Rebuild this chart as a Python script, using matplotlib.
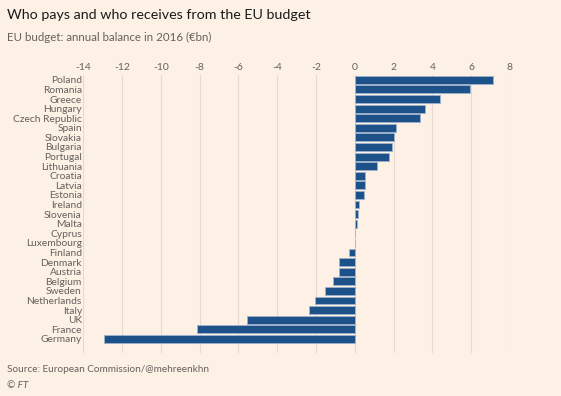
import numpy as np
import matplotlib.pyplot as plt

countries = ['Poland', 'Romania', 'Greece', 'Hungary', 'Czech Republic', 'Spain',
             'Slovakia', 'Bulgaria', 'Portugal', 'Lithuania', 'Croatia', 'Latvia',
             'Estonia', 'Ireland', 'Slovenia', 'Malta', 'Cyprus', 'Luxembourg',
             'Finland', 'Denmark', 'Austria', 'Belgium', 'Sweden', 'Netherlands',
             'Italy', 'UK', 'France', 'Germany']
balance = [7.11, 5.96, 4.37, 3.61, 3.34, 2.10, 2.01, 1.94, 1.77, 1.15, 0.54, 0.52,
           0.48, 0.24, 0.19, 0.12, 0.03, -0.01, -0.29, -0.79, -0.79, -1.15, -1.56,
           -2.06, -2.34, -5.58, -8.16, -12.92]
xticks = [-14, -12, -10, -8, -6, -4, -2, 0, 2, 4, 6, 8]

bg = '#FDF1E6'
bar_color = '#1D5189'
grey = '#66605C'
plt.rcParams['font.family'] = ['Lato', 'DejaVu Sans']

fig = plt.figure(figsize=(5.61, 3.96), dpi=100, facecolor=bg)
ax = fig.add_axes([0.1485, 0.109, 0.7605, 0.702], facecolor=bg)

y = np.arange(len(countries))
ax.barh(y, balance, height=0.82, color=bar_color, edgecolor='#9FB3CC', linewidth=0.6, zorder=3)

ax.set_xlim(-14, 8)
ax.set_ylim(len(countries) - 1 + 1.46, -0.52)
ax.set_xticks(xticks)
ax.set_xticklabels([str(t) for t in xticks], color=grey, fontsize=7.5)
ax.xaxis.tick_top()
ax.tick_params(axis='x', length=0, pad=2)
ax.set_yticks(y)
ax.set_yticklabels(countries, color=grey, fontsize=7.4)
ax.tick_params(axis='y', length=0, pad=1)
ax.grid(axis='x', color='#E5DAD0', linewidth=0.8, zorder=0)
for s in ax.spines.values():
    s.set_visible(False)

fig.text(0.0125, 0.962, 'Who pays and who receives from the EU budget', fontsize=10.3,
         color='#1A1A1A', va='center')
fig.text(0.0125, 0.905, 'EU budget: annual balance in 2016 (\u20acbn)', fontsize=8.3,
         color=grey, va='center')
fig.text(0.0125, 0.068, 'Source: European Commission/@mehreenkhn', fontsize=7.2,
         color=grey, va='center')
fig.text(0.0125, 0.027, '\u00a9 FT', fontsize=7.2, color=grey, va='center', style='italic')

fig.savefig('out.png', dpi=100, facecolor=bg)
